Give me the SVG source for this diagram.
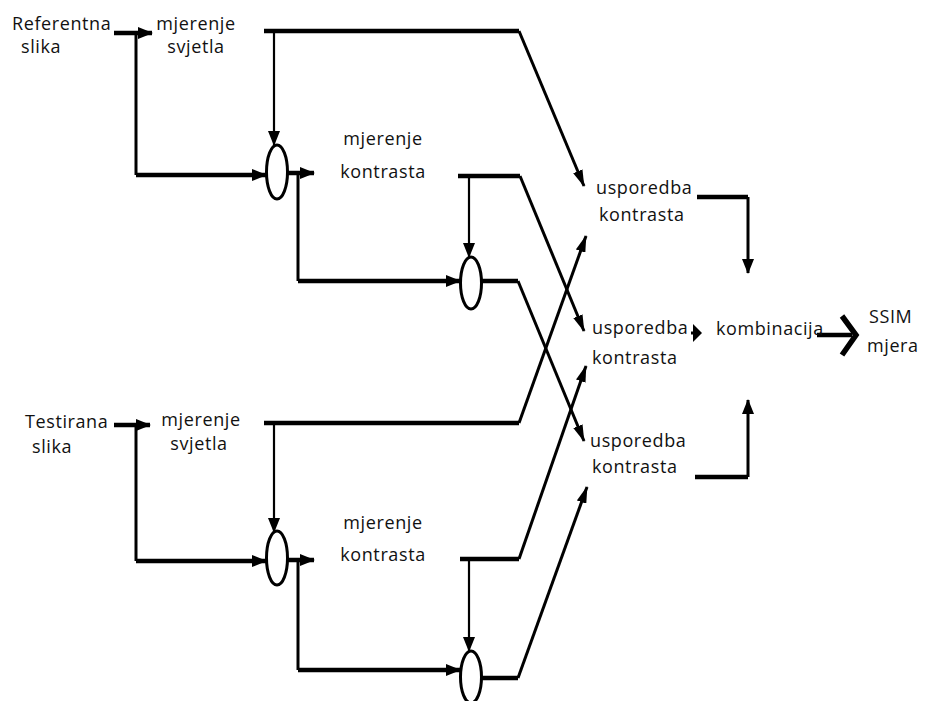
<svg xmlns="http://www.w3.org/2000/svg" width="925" height="701" viewBox="0 0 925 701">
<style>
  text { font-family: "Open Sans", "DejaVu Sans", sans-serif; font-size: 18px; letter-spacing: 0.6px; fill: #111; }
  .thick { stroke: #000; stroke-width: 4.5; fill: none; }
  .mid { stroke: #000; stroke-width: 3; fill: none; }
  .thin { stroke: #000; stroke-width: 2.2; fill: none; }
  .ell { stroke: #000; stroke-width: 3; fill: #fff; }
</style>
<defs>
  <marker id="ah" markerUnits="userSpaceOnUse" markerWidth="15" markerHeight="12" refX="14" refY="6" orient="auto">
    <path d="M0,0 L15,6 L0,12 z" fill="#000"/>
  </marker>
  <marker id="ahs" markerUnits="userSpaceOnUse" markerWidth="17" markerHeight="10" refX="16" refY="5" orient="auto">
    <path d="M0,0 L17,5 L0,10 z" fill="#000"/>
  </marker>
</defs>
<rect width="925" height="701" fill="#fff"/>

<g id="connectors">
  <!-- reference input -->
  <line class="thick" x1="114" y1="33" x2="152" y2="33" marker-end="url(#ah)"/>
  <polyline class="mid" points="136,33 136,175"/>
  <line class="thick" x1="136" y1="175" x2="266" y2="175" marker-end="url(#ah)"/>
  <!-- ref luminance -->
  <polyline class="thick" points="264,31 519,31"/>
  <line class="mid" x1="519" y1="31" x2="584" y2="186" marker-end="url(#ahs)"/>
  <line class="thin" x1="274" y1="31" x2="274" y2="145" marker-end="url(#ah)"/>
  <!-- ellipse 1 out -->
  <line class="thick" x1="288" y1="173" x2="314" y2="173" marker-end="url(#ah)"/>
  <polyline class="mid" points="298,173 298,281"/>
  <line class="thick" x1="298" y1="281" x2="460" y2="281" marker-end="url(#ah)"/>
  <!-- ref contrast -->
  <polyline class="thick" points="458,176 520,176"/>
  <line class="mid" x1="520" y1="176" x2="584" y2="331" marker-end="url(#ahs)"/>
  <line class="thin" x1="469" y1="176" x2="469" y2="257" marker-end="url(#ah)"/>
  <!-- ref structure -->
  <polyline class="thick" points="482,281 518,281"/>
  <line class="mid" x1="518" y1="281" x2="584" y2="441" marker-end="url(#ahs)"/>

  <!-- test input -->
  <line class="thick" x1="114" y1="425" x2="150" y2="425" marker-end="url(#ah)"/>
  <polyline class="mid" points="136,425 136,561"/>
  <line class="thick" x1="136" y1="561" x2="266" y2="561" marker-end="url(#ah)"/>
  <!-- test luminance -->
  <polyline class="thick" points="264,423 519,423"/>
  <line class="mid" x1="519" y1="423" x2="586" y2="236" marker-end="url(#ahs)"/>
  <line class="thin" x1="274" y1="423" x2="274" y2="532" marker-end="url(#ah)"/>
  <!-- ellipse 3 out -->
  <line class="thick" x1="288" y1="560" x2="314" y2="560" marker-end="url(#ah)"/>
  <polyline class="mid" points="298,560 298,670"/>
  <line class="thick" x1="298" y1="670" x2="460" y2="670" marker-end="url(#ah)"/>
  <!-- test contrast -->
  <polyline class="thick" points="460,559 519,559"/>
  <line class="mid" x1="519" y1="559" x2="586" y2="366" marker-end="url(#ahs)"/>
  <line class="thin" x1="469" y1="559" x2="469" y2="651" marker-end="url(#ah)"/>
  <!-- test structure -->
  <polyline class="thick" points="482,678 518,678"/>
  <line class="mid" x1="518" y1="678" x2="587" y2="487" marker-end="url(#ahs)"/>

  <!-- to combination -->
  <polyline class="thick" points="697,197 748,197"/>
  <line class="mid" x1="748" y1="197" x2="748" y2="273" marker-end="url(#ah)"/>
  <polyline class="thick" points="695,477 748,477"/>
  <line class="mid" x1="748" y1="477" x2="748" y2="400" marker-end="url(#ah)"/>
  <line class="mid" x1="691" y1="333" x2="697" y2="333"/>
  <path d="M693,324 L702,333 L693,342 z" fill="#000"/>
  <!-- output -->
  <line class="thick" x1="817" y1="335" x2="852" y2="335"/>
  <path d="M842,316 L856,335 L842,355" stroke="#000" stroke-width="5.5" fill="none"/>
</g>

<g id="ref-input"><text x="12" y="30">Referentna</text><text x="21" y="53">slika</text></g>
<g id="ref-luminance"><text x="196" y="30" text-anchor="middle">mjerenje</text><text x="196" y="53" text-anchor="middle">svjetla</text></g>
<g id="ref-sum1"><ellipse class="ell" cx="277" cy="172" rx="10.5" ry="27"/></g>
<g id="ref-contrast"><text x="383" y="145" text-anchor="middle">mjerenje</text><text x="383" y="178" text-anchor="middle">kontrasta</text></g>
<g id="ref-sum2"><ellipse class="ell" cx="471" cy="283" rx="10.5" ry="26"/></g>

<g id="test-input"><text x="25" y="428">Testirana</text><text x="32" y="453">slika</text></g>
<g id="test-luminance"><text x="201" y="426" text-anchor="middle">mjerenje</text><text x="199" y="450" text-anchor="middle">svjetla</text></g>
<g id="test-sum1"><ellipse class="ell" cx="277" cy="558" rx="10.5" ry="27"/></g>
<g id="test-contrast"><text x="383" y="529" text-anchor="middle">mjerenje</text><text x="383" y="561" text-anchor="middle">kontrasta</text></g>
<g id="test-sum2"><ellipse class="ell" cx="471" cy="677" rx="10.5" ry="26"/></g>

<g id="compare1"><text x="596" y="194">usporedba</text><text x="599" y="221">kontrasta</text></g>
<g id="compare2"><text x="592" y="334">usporedba</text><text x="592" y="364">kontrasta</text></g>
<g id="compare3"><text x="590" y="447">usporedba</text><text x="592" y="473">kontrasta</text></g>
<g id="combination"><text x="716" y="335">kombinacija</text></g>
<g id="ssim"><text x="869" y="323">SSIM</text><text x="867" y="352">mjera</text></g>
</svg>
